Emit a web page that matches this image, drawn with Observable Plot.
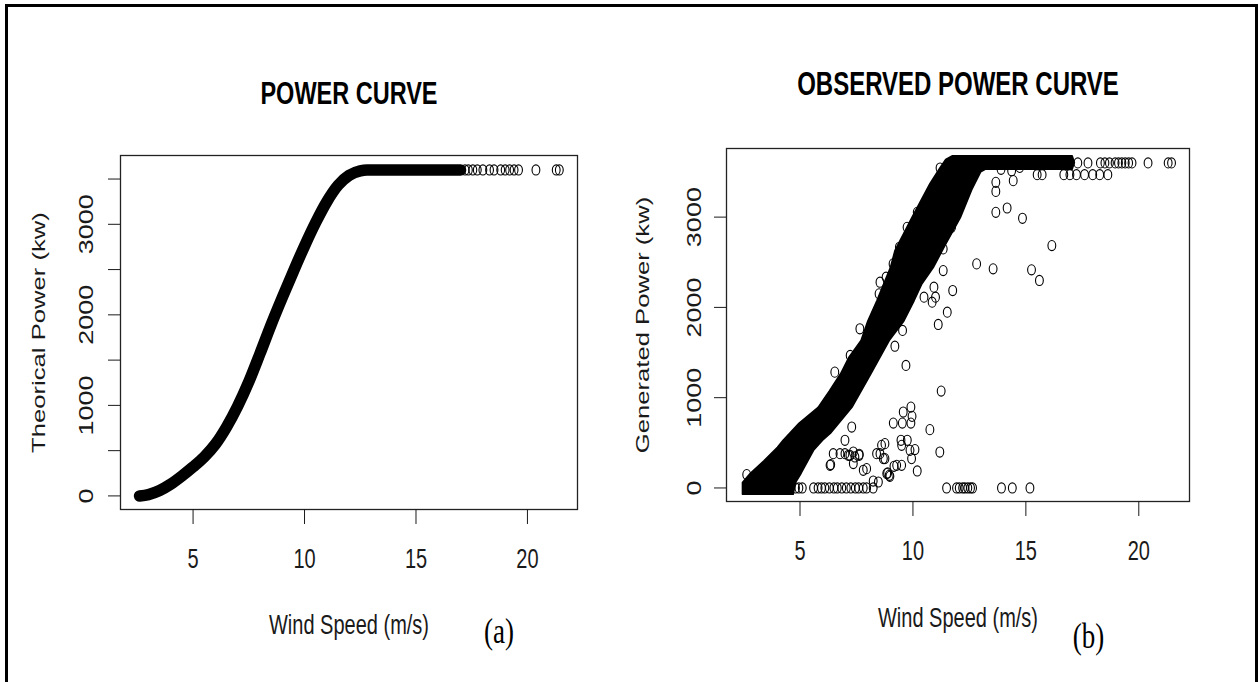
<!DOCTYPE html>
<html><head><meta charset="utf-8">
<script src="https://cdn.jsdelivr.net/npm/d3@7"></script>
<script src="https://cdn.jsdelivr.net/npm/@observablehq/plot@0.6"></script>
<style>
body{margin:0;background:#fff;}
#wrap{position:relative;width:1260px;height:682px;overflow:hidden;background:#fff;}
#border{position:absolute;left:5px;top:4px;width:1253px;height:700px;border:3px solid #000;box-sizing:border-box;z-index:5;pointer-events:none;}
.panel{position:absolute;top:0;}
</style></head><body>
<div id="wrap"><div id="left" class="panel" style="left:0"></div><div id="right" class="panel" style="left:630px"></div><div id="border"></div></div>
<script>
// ---------- data ----------
const windTicks = [5, 10, 15, 20];
const leftPowerTicks = [0, 500, 1000, 1500, 2000, 2500, 3000, 3500];
const rightPowerTicks = [0, 1000, 2000, 3000];
const ratedPower = 3600;

// (a) theoretical power curve
const theoWs    = [2.6, 3.0, 3.5, 4.0, 4.5, 5.0, 5.5, 6.0, 6.5, 7.0, 7.5, 8.0, 8.5, 9.0, 9.5, 10.0, 10.5, 11.0, 11.5, 12.0, 12.5, 12.8, 14.0, 15.5, 17.0];
const theoPower = [0, 15, 60, 130, 220, 320, 430, 570, 760, 990, 1260, 1570, 1890, 2190, 2480, 2760, 3020, 3250, 3430, 3540, 3590, 3600, 3600, 3600, 3600];
const theoTailWs = [17.2, 17.35, 17.55, 17.75, 18.0, 18.3, 18.5, 18.8, 19.0, 19.2, 19.4, 19.6, 20.38, 21.29, 21.43];

// (b) observed: outline of the dense (solid black) band of points
const bandOutlineWs    = [2.45, 2.45, 2.8, 3.4, 4.0, 4.25, 4.95, 5.8, 6.3, 6.8, 7.15, 7.7, 8.0, 8.4, 9.0, 9.2, 9.95, 10.75, 11.2, 11.45, 11.75, 17.05, 17.15, 17.05, 13.2, 13.0, 12.6, 12.1, 11.45, 10.9, 10.4, 10.05, 9.6, 8.95, 8.15, 7.3, 6.35, 6.0, 5.6, 5.05, 4.8, 4.7];
const bandOutlinePower = [-70, 60, 163, 300, 450, 528, 716, 893, 1076, 1268, 1442, 1633, 1850, 2073, 2441, 2628, 2994, 3370, 3547, 3640, 3680, 3680, 3605, 3530, 3530, 3500, 3300, 2994, 2700, 2441, 2262, 2073, 1850, 1633, 1268, 893, 606, 528, 417, 163, 60, -70];

// (b) observed: individually visible points
const obsWs = [
  4.8, 4.95, 5.1, 5.6, 5.8, 5.95, 6.1, 6.3, 6.5, 6.65, 6.85, 7.05, 7.25, 7.45, 7.6, 7.8, 7.95, 8.24,
  11.49, 11.93, 12.05, 12.2, 12.3, 12.43, 12.55, 12.64, 13.92, 14.4, 15.18,
  2.64, 6.33, 6.36, 6.47, 6.77, 6.99, 7.14, 7.21, 7.43, 7.62, 7.36, 7.36, 7.62, 6.99, 7.29,
  7.8, 7.95, 8.24, 8.47, 8.39, 8.54, 8.61, 8.69, 8.76, 8.76, 8.84, 8.88, 8.95, 8.98,
  9.16, 9.28, 9.5, 9.47, 9.5, 9.75, 9.87, 9.94, 10.09, 10.19, 11.19,
  9.13, 9.53, 9.91, 9.57, 9.91, 9.96, 10.75, 11.25, 9.69, 9.2,
  9.54, 11.12, 11.52, 10.49, 10.85, 11.0, 10.93, 11.76, 11.34, 11.34, 11.71, 12.82, 13.55, 15.25, 15.6, 16.15,
  12.08, 13.67, 14.17, 14.85, 13.67, 13.67, 14.44, 14.37, 14.73, 13.9,
  15.5, 15.72, 16.68, 16.95, 17.24, 17.6, 17.96, 18.27, 18.63,
  17.3, 17.75, 18.3, 18.5, 18.7, 18.95, 19.1, 19.25, 19.4, 19.55, 19.7, 20.41, 21.3, 21.45,
  6.54, 7.22, 7.65, 8.5, 8.54, 8.81, 9.12, 9.4, 9.74, 10.19, 11.2
];
const obsPower = [
  0, 0, 0, 0, 0, 0, 0, 0, 0, 0, 0, 0, 0, 0, 0, 0, 0, 0,
  0, 0, 0, 0, 0, 0, 0, 0, 0, 0, 0,
  148, 251, 259, 380, 380, 380, 362, 362, 343, 362, 270, 398, 373, 528, 675,
  196, 214, 77, 66, 380, 380, 472, 325, 491, 325, 159, 166, 140, 129,
  240, 251, 251, 528, 472, 528, 417, 325, 425, 188, 398,
  719, 719, 719, 841, 896, 793, 646, 1073, 1357, 1570,
  1745, 1811, 1947, 2113, 2058, 2113, 2224, 2187, 2408, 2648, 2887, 2482, 2427, 2416, 2298, 2685,
  3183, 3053, 3101, 2987, 3285, 3385, 3404, 3514, 3551, 3530,
  3470, 3470, 3470, 3470, 3470, 3470, 3470, 3470, 3470,
  3600, 3600, 3600, 3600, 3600, 3600, 3600, 3600, 3600, 3600, 3600, 3600, 3600, 3600,
  1283, 1468, 1763, 2150, 2279, 2334, 2482, 2666, 2887, 3053, 3544
];

// ---------- helpers ----------
// R's open circle, stretched vertically like the reference picture
const stretchedCircle = {
  draw(ctx, size) {
    const r = Math.sqrt(size / Math.PI), rx = r, ry = r * 1.3, k = 0.5523;
    ctx.moveTo(rx, 0);
    ctx.bezierCurveTo(rx, ry * k, rx * k, ry, 0, ry);
    ctx.bezierCurveTo(-rx * k, ry, -rx, ry * k, -rx, 0);
    ctx.bezierCurveTo(-rx, -ry * k, -rx * k, -ry, 0, -ry);
    ctx.bezierCurveTo(rx * k, -ry, rx, -ry * k, rx, 0);
    ctx.closePath();
  }
};
const FONT = "'Liberation Sans', Arial, Helvetica, sans-serif";
const SERIF = "'Liberation Serif', 'Times New Roman', serif";
const xDomain = [1.745, 22.245];
const yDomain = [-150, 3760];

function stretchText(svg) {
  svg.querySelectorAll("text").forEach(t => {
    if (t.closest('g[aria-label="tag"]')) return;
    const tr = t.getAttribute("transform") || "";
    t.setAttribute("transform", tr + (tr.includes("rotate") ? " scale(1.35,1)" : " scale(1,1.35)"));
  });
}

function panel({margins, yTicks, yFmt, ytickPad, title, titleSize, titleDy, ylabel, ylabelDx, xlabelDy, xtickPad, tag, tagDx, tagDy, marks}) {
  const svg = Plot.plot({
    width: 630, height: 682,
    marginLeft: margins[0], marginRight: margins[1], marginTop: margins[2], marginBottom: margins[3],
    x: {domain: xDomain},
    y: {domain: yDomain},
    style: {fontFamily: FONT, fontSize: "20px", color: "#1a1a1a", background: "white"},
    marks: [
      ...marks,
      Plot.frame({stroke: "#222", strokeWidth: 1.3}),
      Plot.axisX({ticks: windTicks, tickSize: 15, tickPadding: xtickPad, label: null, fontSize: 20}),
      Plot.axisY({ticks: yTicks, tickFormat: yFmt, tickSize: 12, tickRotate: -90, tickPadding: ytickPad, label: null, fontSize: 20}),
      Plot.text([title], {text: d => d, frameAnchor: "top", textAnchor: "middle", lineAnchor: "bottom", dy: titleDy, fontWeight: "bold", fontSize: titleSize, fill: "black"}),
      Plot.text(["Wind Speed (m/s)"], {text: d => d, frameAnchor: "bottom", textAnchor: "middle", lineAnchor: "bottom", dy: xlabelDy, fontSize: 20}),
      Plot.text([ylabel], {text: d => d, frameAnchor: "left", textAnchor: "middle", rotate: -90, lineAnchor: "middle", dx: ylabelDx, fontSize: 19}),
      Plot.text([tag], {text: d => d, frameAnchor: "bottom", textAnchor: "middle", lineAnchor: "bottom", dx: tagDx, dy: tagDy, fontFamily: SERIF, fontSize: 27, fill: "black", ariaLabel: "tag"})
    ]
  });
  stretchText(svg);
  return svg;
}

// ---------- (a) ----------
const theo = theoWs.map((w, i) => ({ws: w, p: theoPower[i]}));
const theoTail = theoTailWs.map(w => ({ws: w, p: ratedPower}));
document.getElementById("left").appendChild(panel({
  margins: [120, 53, 155, 173],
  yTicks: leftPowerTicks, yFmt: d => (d % 1000 === 0 ? String(d) : ""), ytickPad: 16,
  title: "POWER CURVE", titleSize: 23.5, titleDy: -52,
  ylabel: "Theorical Power (kw)", ylabelDx: -82,
  xlabelDy: 124, xtickPad: 24.5,
  tag: "(a)", tagDx: 150, tagDy: 133,
  marks: [
    Plot.line(theo, {x: "ws", y: "p", stroke: "black", strokeWidth: 11.5, curve: "monotone-x", strokeLinecap: "round", strokeLinejoin: "round"}),
    Plot.dot(theoTail, {x: "ws", y: "p", r: 3.9, symbol: stretchedCircle, stroke: "black", fill: "none", strokeWidth: 1.1})
  ]
}));

// ---------- (b) ----------
const band = bandOutlineWs.map((w, i) => ({ws: w, p: bandOutlinePower[i]}));
const obs = obsWs.map((w, i) => ({ws: w, p: obsPower[i]}));
document.getElementById("right").appendChild(panel({
  margins: [96, 71, 148, 181],
  yTicks: rightPowerTicks, yFmt: d => String(d), ytickPad: 14,
  title: "OBSERVED POWER CURVE", titleSize: 24, titleDy: -54,
  ylabel: "Generated Power (kw)", ylabelDx: -84,
  xlabelDy: 125, xtickPad: 24,
  tag: "(b)", tagDx: 130.5, tagDy: 146,
  marks: [
    Plot.line(band, {x: "ws", y: "p", stroke: "black", strokeWidth: 1.5, strokeLinejoin: "round", fill: "black", curve: "linear-closed"}),
    Plot.dot(obs, {x: "ws", y: "p", r: 3.9, symbol: stretchedCircle, stroke: "black", fill: "none", strokeWidth: 1.1})
  ]
}));
</script>
</body></html>
